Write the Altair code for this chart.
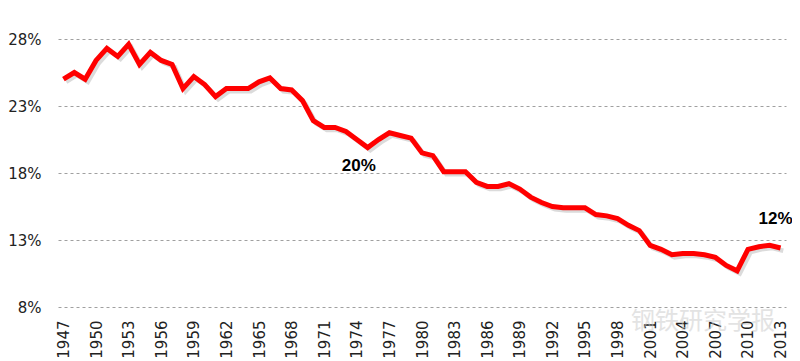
import altair as alt
import pandas as pd

years = list(range(1947, 2014))
values = [25.0, 25.5, 25.0, 26.4, 27.3, 26.7, 27.6, 26.1, 27.0, 26.4,
          26.1, 24.3, 25.2, 24.6, 23.7, 24.3, 24.3, 24.3, 24.8, 25.1,
          24.3, 24.2, 23.4, 21.9, 21.4, 21.4, 21.1, 20.5, 19.9, 20.5,
          21.0, 20.8, 20.6, 19.5, 19.3, 18.1, 18.1, 18.1, 17.3, 17.0,
          17.0, 17.2, 16.8, 16.2, 15.8, 15.5, 15.4, 15.4, 15.4, 14.9,
          14.8, 14.6, 14.1, 13.7, 12.6, 12.3, 11.9, 12.0, 12.0, 11.9,
          11.7, 11.1, 10.7, 12.3, 12.5, 12.6, 12.4]
y_ticks = [8, 13, 18, 23, 28]
x_ticks = list(range(1947, 2014, 3))
ann_years = [1974, 2013]
ann_labels = ["20%", "12%"]
watermark = "钢铁研究学报"

df = pd.DataFrame({"year": years, "value": values})
df["sx"] = df["year"] + 0.25
df["sy"] = df["value"] - 0.2
ann = pd.DataFrame({"year": ann_years, "label": ann_labels})
ann = ann.merge(df[["year", "value"]], on="year")

xscale = alt.Scale(domain=[1946.5, 2013.5], nice=False, zero=False)
yscale = alt.Scale(domain=[8, 28], nice=False, zero=False)

xaxis = alt.Axis(values=x_ticks, format="d", labelAngle=-90, title=None,
                 grid=False, domain=False, ticks=False, labelPadding=13,
                 labelFont="DejaVu Sans", labelFontSize=15, labelColor="#222222",
                 labelOverlap=False, labelFlush=False)
yaxis = alt.Axis(values=y_ticks, labelExpr="datum.value + '%'", title=None,
                 grid=True, gridDash=[3, 3], gridColor="#a0a0a0", gridWidth=1,
                 domain=False, ticks=False, labelPadding=17, labelOverlap=False,
                 labelFont="DejaVu Sans", labelFontSize=15, labelColor="#222222")


def X(field):
    return alt.X(field + ":Q", scale=xscale, axis=xaxis)


def Y(field):
    return alt.Y(field + ":Q", scale=yscale, axis=yaxis)


base = alt.Chart(df)

shadow = base.mark_line(color="#999999", strokeWidth=4.5, opacity=0.35).encode(
    x=X("sx"), y=Y("sy"))

line = base.mark_line(color="#FF0000", strokeWidth=5).encode(
    x=X("year"), y=Y("value"))

font_ann = "Liberation Sans"
t1 = alt.Chart(ann[ann["label"] == ann_labels[0]]).mark_text(
    font=font_ann, fontWeight="bold", fontSize=17, color="#000000", dx=2, dy=26,
    align="center", baseline="middle").encode(
    x=X("year"), y=Y("value"), text="label:N")
t2 = alt.Chart(ann[ann["label"] == ann_labels[1]]).mark_text(
    font=font_ann, fontWeight="bold", fontSize=17, color="#000000", dx=-5, dy=-29,
    align="center", baseline="middle").encode(
    x=X("year"), y=Y("value"), text="label:N")

wm = alt.Chart(pd.DataFrame({"t": [watermark]})).mark_text(
    font="Noto Sans CJK SC", fontSize=24, color="#c8c8c8", opacity=0.5,
    align="center", baseline="middle").encode(
    x=alt.value(645), y=alt.value(283), text="t:N")

chart = alt.layer(wm, shadow, line, t1, t2).properties(
    width=728, height=268,
    background="white",
    autosize=alt.AutoSizeParams(type="none"),
    padding={"left": 50, "top": 31, "right": 6, "bottom": 53},
).configure_view(stroke=None)

chart.save("out.html", embed_options={"renderer": "svg", "actions": False})
